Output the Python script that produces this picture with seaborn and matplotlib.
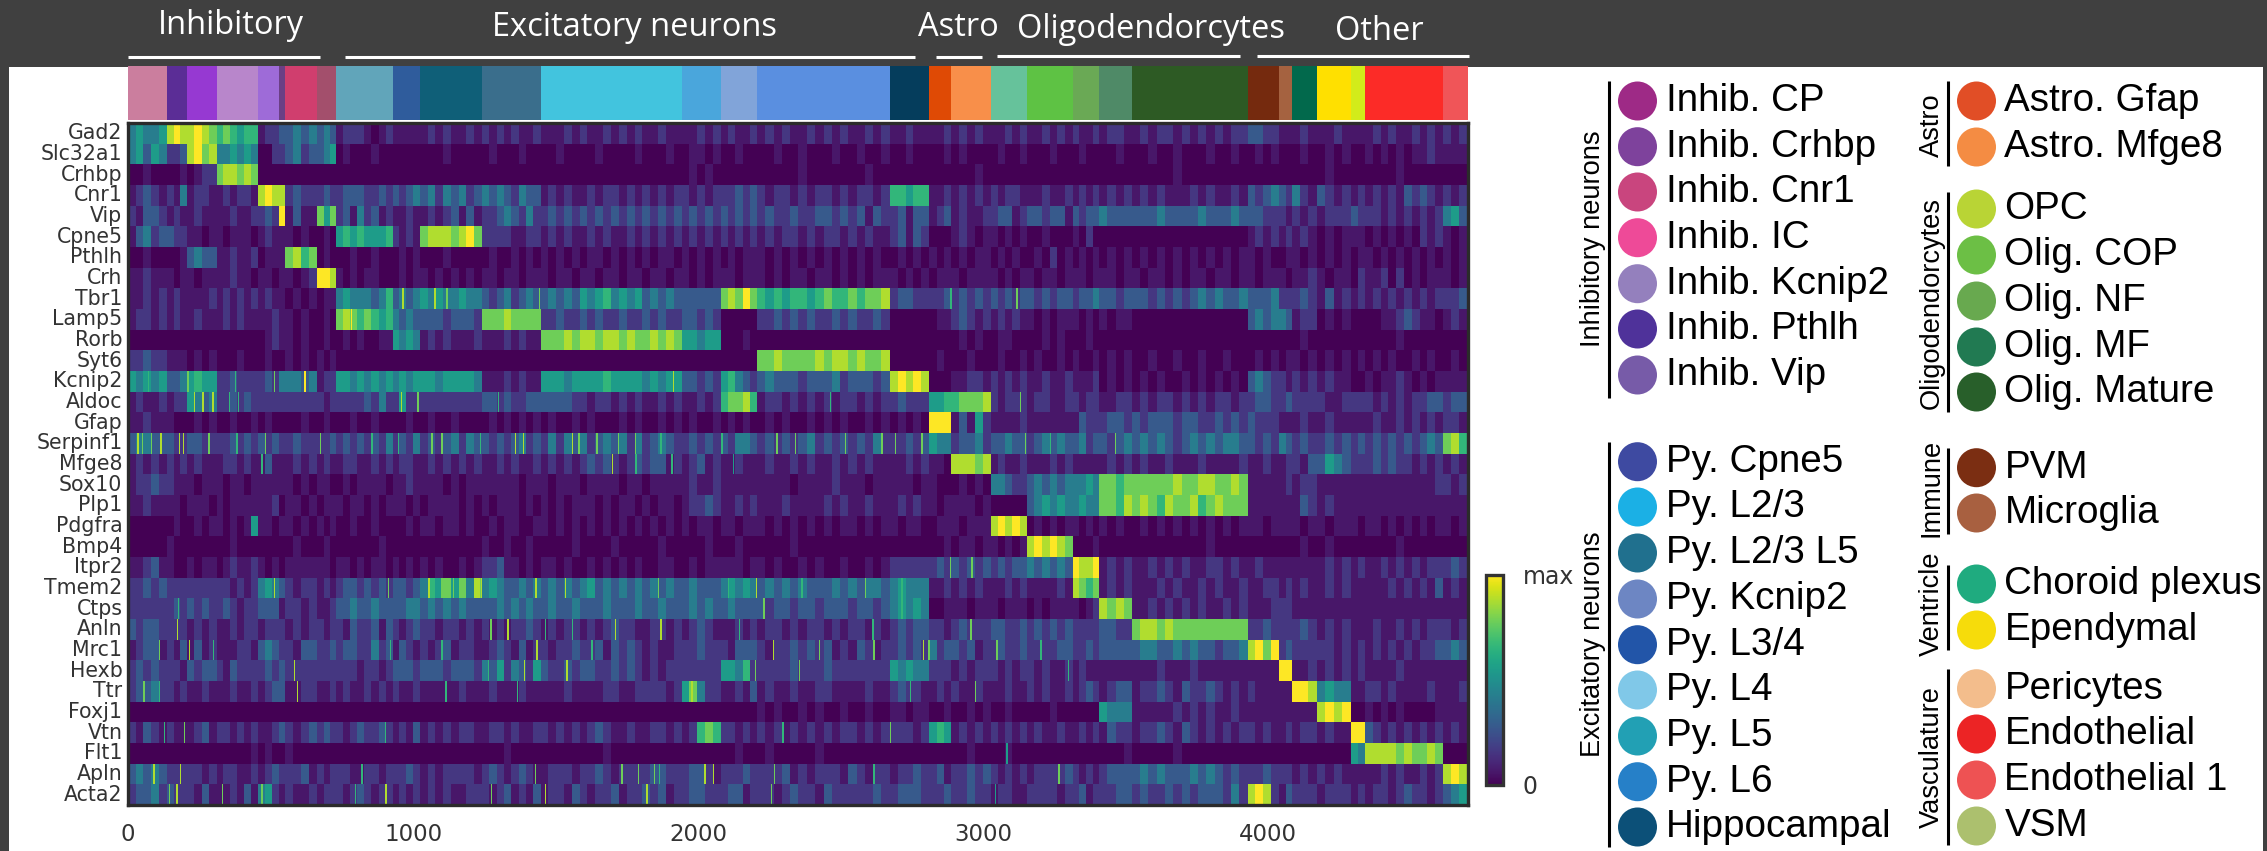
import numpy as np
import pandas as pd
import matplotlib
matplotlib.use('Agg')
import matplotlib.pyplot as plt
from matplotlib.colors import ListedColormap
from matplotlib.patches import Circle, Rectangle
import seaborn as sns

W, H = 2267, 851
DARK = '#404040'
TICK = '#333333'

genes = ['Gad2', 'Slc32a1', 'Crhbp', 'Cnr1', 'Vip', 'Cpne5', 'Pthlh', 'Crh', 'Tbr1', 'Lamp5', 'Rorb',
         'Syt6', 'Kcnip2', 'Aldoc', 'Gfap', 'Serpinf1', 'Mfge8', 'Sox10', 'Plp1', 'Pdgfra', 'Bmp4',
         'Itpr2', 'Tmem2', 'Ctps', 'Anln', 'Mrc1', 'Hexb', 'Ttr', 'Foxj1', 'Vtn', 'Flt1', 'Apln', 'Acta2']

# cells per cluster and the colour of each cluster in the top strip
cluster_sizes = [136, 72, 103, 144, 75, 20, 114, 66,
                 199, 95, 218, 206, 494, 138, 127, 466, 138,
                 78, 140, 124, 161, 94, 115, 405,
                 111, 44, 88, 118, 52, 272, 88]
cluster_colors = ['#CB7E9E', '#5B2D96', '#9639D2', '#B886CB', '#9E6BD8', '#6B3F85', '#D03E6E', '#A34F6C',
                  '#61A5BA', '#2F5C9C', '#0F5F78', '#3A6E8C', '#42C4DE', '#4AA6DC', '#81A4D9', '#5A8FE0', '#053D5C',
                  '#DF4A05', '#F88F4A', '#66C29B', '#5EC244', '#6AA955', '#4F8A67', '#2D5A24',
                  '#752A0E', '#A56240', '#02694C', '#FFE000', '#D2EC1A', '#FC2B27', '#F05558']

# what each reading digit means on the 0..max colour scale
digit_levels = [0.0, 0.06, 0.16, 0.28, 0.42, 0.55, 0.66, 0.78, 0.88, 1.0]

# expression, digits 0 (dark) to 9 (yellow): one group of digits per cluster, for each gene
expression = [
    ('45445 898 8987 676566 122 3 3434 343 '
     '12221012 1111 12121121 21212112 111212112121211211 11212 12112 1212112121211212 11211 '
     '112 12121 11212 112121 2112 1221 12122121212122 '
     '3322 11 121 1121 11 1212112121 212'),
    ('45354 223 8978 445454 002 2 3423 345 '
     '01000100 0000 00010000 01000100 001000010000100010 01101 00100 0010010001001001 00100 '
     '001 01000 01001 000100 0100 0010 00100100010010 '
     '0101 00 010 0101 00 1010101121 111'),
    ('00100 001 0122 788787 000 0 0000 000 '
     '00000000 0000 00000000 00000000 000000000000000000 01010 00000 0000010000000100 00000 '
     '000 00010 00000 000000 0000 0000 00000100000000 '
     '0000 00 000 0100 00 0000100000 000'),
    ('12321 214 1221 121221 898 8 2322 232 '
     '23332232 3234 34243423 43432433 121211212212121212 21212 22323 2122121221212212 66566 '
     '112 12121 21221 112112 1212 1212 12121112121121 '
     '3234 32 421 3212 12 1212132321 212'),
    ('21332 121 1211 112112 232 9 1311 757 '
     '23142312 1121 12123131 22343242 232323232323232323 23232 32323 2322322332323132 23133 '
     '123 12112 23312 332331 3233 4333 33343333433343 '
     '3322 21 212 1222 32 2212121212 453'),
    ('13423 322 1101 101110 121 1 1010 010 '
     '56565556 2121 78887897 22221122 121211212112121212 12121 21212 1212212122121211 23132 '
     '000 12101 10101 001000 1020 0000 00000000000000 '
     '1212 12 121 0101 11 0101010212 101'),
    ('00100 001 3433 112112 011 1 7867 010 '
     '00100100 0101 00010000 01001010 101010110101010110 10101 01011 1010101010101010 01010 '
     '101 01011 01010 010201 0101 0101 01010101010101 '
     '1010 01 101 0101 01 1010101010 101'),
    ('11211 101 1011 112110 110 1 1012 998 '
     '10101100 0101 10101010 11011011 101101101101101101 10101 11011 1010110110101011 10101 '
     '011 10111 10101 101101 1101 1101 10110101101101 '
     '1011 10 112 1011 02 1120201011 101'),
    ('11212 121 1112 121212 121 1 0101 011 '
     '45444346 3434 54544544 32342343 343435456454534343 33333 78797 6565665676676778 23322 '
     '223 23232 32323 323233 2334 3323 33232323434334 '
     '3334 22 232 1312 12 1212121212 223'),
    ('12212 121 1211 121211 112 1 1010 010 '
     '78767656 4343 33323332 77787777 223223232232232322 33232 00000 2232323223232232 00000 '
     '011 23212 12121 101011 1010 1011 00000000000000 '
     '3434 43 122 0101 00 0011232110 121'),
    ('00000 000 0000 000000 012 1 1010 010 '
     '01010011 5454 12121112 11121211 777878878878778787 55455 00010 0000000000000000 00000 '
     '000 01010 01100 001010 0010 0000 00000000000000 '
     '0000 00 010 0000 00 0000100000 000'),
    ('22322 111 0101 000100 010 0 1010 101 '
     '00000000 0000 00000000 00000000 000000000000000000 00000 00000 7787777878878778 00000 '
     '010 00100 01001 010010 1001 0101 00100100100100 '
     '0101 01 101 0101 01 0101001010 010'),
    ('54545 334 5655 223222 232 4 4434 122 '
     '55454545 4545 55455554 11121211 555455556555545455 33232 56432 3433323334233323 89898 '
     '000 11221 21212 112112 1112 0101 01010010101010 '
     '3432 21 212 1211 00 1011210101 111'),
    ('12112 122 5434 223232 222 2 2222 212 '
     '22223242 2522 22222222 33232233 333322122121211212 11212 67786 1221212121221212 23222 '
     '556 67778 21222 122112 2122 1122 12122121212212 '
     '2332 23 222 2112 22 2121212233 233'),
    ('11211 100 0101 001001 010 0 0010 010 '
     '00100100 0010 01001000 01010101 010010100010100101 01001 01010 0101001010100101 01010 '
     '999 13152 11112 111111 1322 2332 32333233223232 '
     '3222 11 121 1211 11 1211212121 221'),
    ('34433 322 3322 223232 323 2 2322 223 '
     '23232324 2324 23234243 32323423 242434234342423432 23232 32443 2323234232323242 22323 '
     '544 23342 33433 234343 3423 3234 34343234343443 '
     '3232 43 232 2323 23 2323232343 786'),
    ('12121 212 1211 122121 131 1 1212 121 '
     '12211212 1221 12121212 11212112 121212323212323312 12312 11211 1211212112121211 11212 '
     '110 88878 12112 111212 1111 1212 12112111211112 '
     '1121 12 213 3543 22 2323221212 121'),
    ('12232 211 1011 101101 111 1 1010 110 '
     '01011110 1121 11101011 11111011 101110111101101111 12112 11111 1111011112111011 11101 '
     '100 01010 44322 343434 4454 7767 77777877887787 '
     '1111 12 122 1111 11 1111111112 212'),
    ('11211 110 1110 101111 112 0 1101 011 '
     '10110101 1101 01111010 10111010 101011101011010110 12232 11212 1112111121211211 12121 '
     '101 11101 00000 345454 4544 7768 78768778678777 '
     '1111 11 132 1211 11 1111111111 111'),
    ('00000 010 0101 101015 110 1 1010 101 '
     '00100100 0010 11011010 01011001 101010101010101010 10110 11011 1010101010110101 10110 '
     '011 10111 89898 010101 1010 1010 01010101010101 '
     '1101 11 101 1011 10 1101010101 101'),
    ('00000 100 0000 001000 000 0 0100 010 '
     '00000010 0000 00000000 10010010 000010000100000100 00010 00100 0000100000000000 00000 '
     '001 01101 10101 898987 0001 0000 00000000010000 '
     '0000 00 010 0100 00 0000100000 000'),
    ('11231 100 1011 012112 101 0 1111 110 '
     '11010110 1010 10100101 22311010 110100101010100110 01011 11101 1010010100100101 22222 '
     '232 32323 23233 434343 9889 1212 11212121122121 '
     '1211 11 111 1212 12 1121212122 232'),
    ('22323 222 2222 221212 454 3 2122 121 '
     '23323232 3323 46575748 45433434 343434534343434343 34333 45454 3434343334343443 45444 '
     '112 12121 11212 111121 8767 1212 11121211212112 '
     '1122 12 121 1212 11 1112121213 121'),
    ('22222 232 3232 232122 333 1 2212 112 '
     '33433433 3344 34343433 33434343 343343334333433433 34343 34333 3233233233323323 45454 '
     '001 11011 10111 010111 1012 8787 11212121211212 '
     '1112 22 111 1111 11 1111111111 111'),
    ('32332 222 1212 112122 122 2 1212 212 '
     '21322313 2123 22122121 21212232 121221212322112212 12321 11212 1221212212122121 23233 '
     '221 23222 33223 232323 2222 3322 78878777777777 '
     '2232 22 232 1212 11 1211212122 212'),
    ('12331 213 1312 111221 343 2 2133 223 '
     '23322423 1321 21231221 12321312 212232231323212112 22322 21333 2122323231213212 23232 '
     '423 32312 23223 222233 2232 3333 34433434332334 '
     '8979 23 222 2212 12 1212121223 343'),
    ('23232 221 3233 213222 232 3 2222 222 '
     '22212212 3332 33323332 43524325 322323322323212122 22222 55462 2222322232222222 54544 '
     '222 12122 21212 212112 1211 1111 11121112111111 '
     '1111 99 112 1212 12 1111211111 111'),
    ('23342 212 1121 112112 123 3 1122 112 '
     '12112121 2112 11111211 12111211 111211112211222212 57422 11213 1211211221111211 23221 '
     '121 21121 11211 212112 1232 1233 12232132232121 '
     '2111 11 998 4544 11 2212111121 112'),
    ('00000 000 0000 000000 000 0 0000 000 '
     '00000000 0000 00000000 00000000 000000000000000000 00000 00000 1010010100100100 11011 '
     '001 00101 00100 000100 0000 5444 11111212121121 '
     '1111 11 111 8989 00 1010100001 111'),
    ('21321 211 1231 221212 112 3 2123 232 '
     '21232232 1213 12121221 12212112 212121232112112212 12676 22121 2121212121221212 22212 '
     '565 12121 21212 121121 1212 1322 12232132121212 '
     '2121 12 122 1211 99 3212121212 121'),
    ('00000 000 0000 000001 010 0 1000 000 '
     '00000000 0000 00000000 00010000 000000001000000000 00000 00100 0100000100000000 00000 '
     '000 00100 00100 000000 0000 0001 00000100000000 '
     '0000 00 000 0000 54 8888787787 000'),
    ('34343 222 2212 122112 123 2 2231 212 '
     '22112212 2232 12122221 23212321 122212232122223322 23321 22232 2223121222132122 12232 '
     '231 22323 21212 122223 2121 2333 34343334343232 '
     '2232 22 121 2121 11 1121211212 898'),
    ('23342 322 2131 112131 452 1 2112 122 '
     '21232122 1212 12121122 21231213 122132122312232312 23322 23312 2212322132222232 23332 '
     '223 22322 12211 222212 2312 2233 23223232333242 '
     '8982 13 222 1222 12 1221232212 345'),
]

# single bright cells seen in the zoomed picture: gene -> (cell, digit)
thin_stripes = {
    'Tbr1': [(963, 8), (1074, 8), (1117, 7), (1442, 7), (2885, 6), (3117, 7)],
    'Lamp5': [(781, 9)],
    'Kcnip2': [(70, 6), (208, 7), (374, 6), (512, 7), (619, 9), (1912, 8)],
    'Aldoc': [(230, 8), (260, 8), (295, 8), (354, 6), (386, 6), (957, 8), (1015, 7), (1298, 6), (2462, 6), (3128, 7)],
    'Serpinf1': [(33, 8), (49, 7), (80, 7), (113, 8), (178, 8), (193, 8), (281, 7), (380, 6), (480, 7), (673, 7),
                 (854, 6), (947, 6), (1064, 7), (1099, 7), (1234, 6), (1357, 8), (1386, 8), (1556, 8), (1579, 7),
                 (1643, 7), (1719, 7), (1777, 7), (1867, 6), (2081, 6), (2274, 7), (2339, 7), (2514, 7), (2643, 7),
                 (2690, 7), (2783, 7), (3146, 7), (3233, 6), (3462, 7)],
    'Mfge8': [(468, 6), (1698, 8), (1780, 6), (1906, 6), (2122, 5)],
    'Itpr2': [(2883, 7), (2959, 7)],
    'Tmem2': [(512, 8), (912, 7), (1053, 8), (1099, 7), (1140, 7), (1234, 7), (1429, 8), (1532, 8), (1859, 7),
              (2105, 6), (2202, 8), (2362, 6), (2584, 7), (2713, 6)],
    'Ctps': [(175, 6), (2228, 7), (2713, 6)],
    'Anln': [(172, 8), (1271, 7), (1330, 8), (1462, 6), (1556, 6), (1708, 8), (1867, 8), (2143, 6), (2611, 6), (2955, 7)],
    'Mrc1': [(108, 7), (213, 8), (298, 6), (918, 6), (1099, 6), (1433, 8), (1626, 6), (2263, 8), (2424, 7), (2614, 7),
             (2789, 8), (2807, 7), (3046, 7), (3201, 6)],
    'Hexb': [(582, 8), (1263, 6), (1388, 8), (1538, 8), (2198, 7), (2354, 7), (3296, 6)],
    'Ttr': [(53, 7), (108, 6), (593, 8), (1113, 6), (1363, 6), (1976, 8), (2742, 6), (2970, 7)],
    'Vtn': [(126, 6), (196, 7), (900, 6), (2296, 6), (2672, 7)],
    'Flt1': [(3081, 5)],
    'Apln': [(88, 8), (181, 8), (819, 6), (1427, 7), (1731, 7), (1789, 7), (1845, 7), (1863, 6), (2021, 8), (2052, 8),
             (2265, 7), (2614, 6), (3263, 7)],
    'Acta2': [(143, 7), (170, 8), (330, 7), (468, 7), (795, 6), (903, 8), (1272, 7), (1462, 8), (1818, 8), (2255, 7),
              (3041, 5)],
}

x_ticks = [0, 1000, 2000, 3000, 4000]

# header groups above the strip
header_names = ['Inhibitory', 'Excitatory neurons', 'Astro', 'Oligodendorcytes', 'Other']

# legend groups
legend_inhib = ['Inhib. CP', 'Inhib. Crhbp', 'Inhib. Cnr1', 'Inhib. IC', 'Inhib. Kcnip2', 'Inhib. Pthlh', 'Inhib. Vip']
colors_inhib = ['#9E2A86', '#7E429C', '#C9457E', '#EE4A98', '#9480BD', '#4F329A', '#775BA8']
legend_excit = ['Py. Cpne5', 'Py. L2/3', 'Py. L2/3 L5', 'Py. Kcnip2', 'Py. L3/4', 'Py. L4', 'Py. L5', 'Py. L6', 'Hippocampal']
colors_excit = ['#3E4AA1', '#1BB0E5', '#20708E', '#6D86C3', '#2255A8', '#80C8E8', '#22A0B4', '#2680C8', '#0C5078']
legend_astro = ['Astro. Gfap', 'Astro. Mfge8']
colors_astro = ['#E14E26', '#F48C43']
legend_oligo = ['OPC', 'Olig. COP', 'Olig. NF', 'Olig. MF', 'Olig. Mature']
colors_oligo = ['#B9D435', '#6CBF45', '#68A94F', '#217A52', '#285F2A']
legend_immune = ['PVM', 'Microglia']
colors_immune = ['#7B2E12', '#A86040']
legend_ventricle = ['Choroid plexus', 'Ependymal']
colors_ventricle = ['#1FAB7F', '#F6DC0B']
legend_vasc = ['Pericytes', 'Endothelial', 'Endothelial 1', 'VSM']
colors_vasc = ['#F3BD8C', '#EC2425', '#EE5253', '#ACC06E']


def px_axes(left, top, right, bottom, **kw):
    return fig.add_axes([left / W, 1 - bottom / H, (right - left) / W, (bottom - top) / H], **kw)


# spread each gene's digit groups over the cells of their cluster
rows = []
for row in expression:
    cells = []
    for group, size in zip(row.split(), cluster_sizes):
        cells.append(np.repeat(list(group), np.diff(np.arange(len(group) + 1) * size // len(group))))
    rows.append(np.concatenate(cells).astype(int))
digits = pd.DataFrame(rows, index=genes)
for gene, stripes in thin_stripes.items():
    for cell, digit in stripes:
        digits.loc[gene, cell:cell + 4] = digit
df = digits.map(lambda d: digit_levels[d])

sns.set_theme(style='white')
fig = plt.figure(figsize=(W / 100, H / 100), dpi=100, facecolor=DARK)

# page layer: white panel, header, legend
bg = px_axes(0, 0, W, H)
bg.set_xlim(0, W)
bg.set_ylim(H, 0)
bg.axis('off')
bg.add_patch(Rectangle((9, 67), 2254, 784, color='white', lw=0))

header_spans = [(128, 320, 55), (345, 915, 55), (936, 982, 55), (997, 1240, 54), (1257, 1469, 54)]
header_text = [(231, 26), (634, 28), (958, 27), (1151, 29), (1379, 31)]
for name, (x0, x1, y), (tx, ty) in zip(header_names, header_spans, header_text):
    bg.plot([x0, x1], [y + 1.5, y + 1.5], color='white', lw=2.2, solid_capstyle='butt')
    bg.text(tx, ty, name, color='white', fontsize=23.5, family='Open Sans', ha='center', va='center')


def legend_group(title, names, colors, bar_x, ys, span, title_y):
    bg.plot([bar_x, bar_x], span, color='black', lw=2.2, solid_capstyle='butt')
    bg.text(bar_x - 16, title_y, title, rotation=90, fontsize=19.6, family='Liberation Sans',
            ha='center', va='center', color='black')
    for name, color, y in zip(names, colors, ys):
        bg.add_patch(Circle((bar_x + 29, y), 19.5, color=color, lw=0))
        bg.text(bar_x + 57, y, name, fontsize=27.8, family='Liberation Sans', ha='left', va='center', color='black')


legend_group('Inhibitory neurons', legend_inhib, colors_inhib, 1608.5,
             [101, 146.7, 192, 237.7, 283.7, 329, 375], (81, 398), 239)
legend_group('Excitatory neurons', legend_excit, colors_excit, 1608.5,
             [461.7, 507, 553, 599, 644.7, 690, 736, 781.7, 827], (442, 847), 644)
legend_group('Astro', legend_astro, colors_astro, 1947.5, [101, 147], (81, 166), 125)
legend_group('Oligodendorcytes', legend_oligo, colors_oligo, 1947.5,
             [209, 255, 301, 347, 392], (192, 412), 303)
legend_group('Immune', legend_immune, colors_immune, 1947.5, [467.7, 513], (448, 534), 488)
legend_group('Ventricle', legend_ventricle, colors_ventricle, 1947.5, [584, 630], (565, 650), 604)
legend_group('Vasculature', legend_vasc, colors_vasc, 1947.5, [688.7, 734, 780, 826], (669, 845), 757)

# top colour strip
strip = px_axes(128, 66, 1468, 120)
labels = np.repeat(np.arange(len(cluster_sizes)), cluster_sizes)
sns.heatmap(labels[np.newaxis, :], ax=strip, cmap=ListedColormap(cluster_colors), cbar=False,
            xticklabels=False, yticklabels=False, vmin=-0.5, vmax=len(cluster_sizes) - 0.5)

# main heatmap
ax = px_axes(128, 123, 1468, 805)
cax = px_axes(1486, 575, 1503, 785)
sns.heatmap(df, ax=ax, cmap='viridis', vmin=0, vmax=1, cbar_ax=cax, cbar_kws={'ticks': [0, 1]},
            xticklabels=False, yticklabels=genes)
ax.set_xticks(x_ticks)
ax.set_xticklabels(x_ticks, rotation=0, fontsize=16.5, color=TICK)
ax.set_yticklabels(genes, rotation=0, fontsize=14.8, color=TICK)
ax.tick_params(axis='both', length=0)
ax.tick_params(axis='x', pad=13)
ax.tick_params(axis='y', pad=4)
for spine in ax.spines.values():
    spine.set_visible(True)
    spine.set_color('#2b2b2b')
    spine.set_linewidth(2.4)

cbar = ax.collections[0].colorbar
cbar.set_ticklabels(['0', 'max'])
cbar.ax.tick_params(length=0, labelsize=17, labelcolor=TICK, pad=14)
cbar.outline.set_visible(True)
cbar.outline.set_edgecolor('#333333')
cbar.outline.set_linewidth(2.4)

fig.savefig('out.png', dpi=100, facecolor=DARK)
